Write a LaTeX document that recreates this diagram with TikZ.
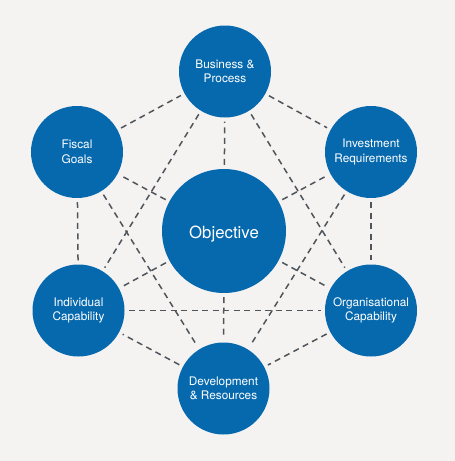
\documentclass[tikz,border=0pt]{standalone}
\usepackage{fontspec}
\setmainfont{TeX Gyre Heros}
\usetikzlibrary{positioning}
\definecolor{bluedot}{HTML}{0669AE}
\definecolor{dashgrey}{HTML}{4F555B}
\definecolor{paper}{HTML}{F4F3F2}

\begin{document}
\begin{tikzpicture}[x=1pt,y=-1pt,
    topic/.style={circle,fill=bluedot,text=white,minimum size=92pt,
                  inner sep=0pt,align=center,
                  font=\fontsize{11.8}{14.5}\selectfont},
    hub/.style={topic,minimum size=124pt,font=\fontsize{16.8}{20}\selectfont},
    link/.style={draw=dashgrey,line width=1.5pt,dash pattern=on 6pt off 4.5pt,
                 shorten >=4pt,shorten <=4pt}]
  \fill[paper] (0,0) rectangle (455,461);
  \node[hub] (obj) at (224,231) {\raisebox{-3pt}[\height][\depth]{Objective}};
  \node[topic] (bus) at (225,71.5) {Business \&\\Process};
  \node[topic] (inv) at (371,152) {Investment\\Requirements};
  \node[topic] (org) at (371,310.5) {Organisational\\Capability};
  \node[topic] (dev) at (223.5,388.5) {Development\\\& Resources};
  \node[topic] (ind) at (78.5,310.5) {Individual\\Capability};
  \node[topic] (fis) at (77,152) {Fiscal\\Goals};
  % ring, spokes and chords
  \foreach \a/\b in {bus/inv,inv/org,org/dev,dev/ind,ind/fis,fis/bus,
                     obj/bus,obj/inv,obj/org,obj/dev,obj/ind,obj/fis,
                     bus/ind,bus/org,fis/dev,inv/dev,ind/org}
    \draw[link] (\a) -- (\b);
\end{tikzpicture}
\end{document}
